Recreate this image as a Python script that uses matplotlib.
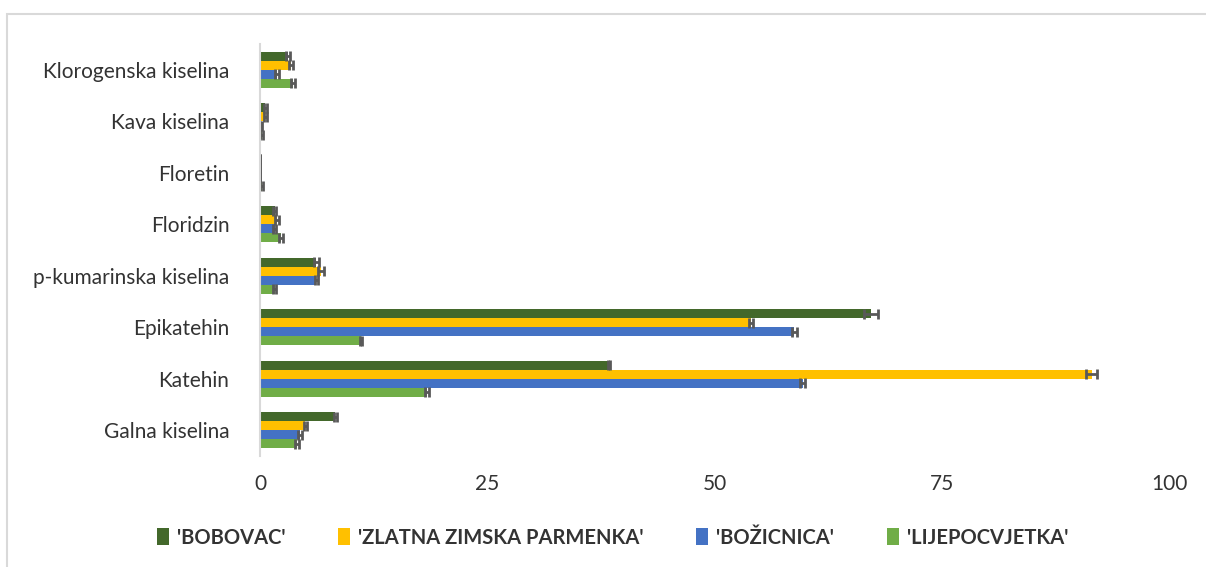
import numpy as np
import matplotlib
matplotlib.use('Agg')
import matplotlib.pyplot as plt
from matplotlib.patches import Rectangle

plt.rcParams['font.family'] = ['Lato', 'DejaVu Sans']

# categories listed bottom -> top
categories = ['Galna kiselina', 'Katehin', 'Epikatehin', 'p-kumarinska kiselina',
              'Floridzin', 'Floretin', 'Kava kiselina', 'Klorogenska kiselina']
series = ["'BOBOVAC'", "'ZLATNA ZIMSKA PARMENKA'", "'BOŽICNICA'", "'LIJEPOCVJETKA'"]
colors = ['#43682b', '#ffc000', '#4472c4', '#70ad47']

bobovac = [8.3, 38.4, 67.2, 6.2, 1.6, 0.0, 0.6, 3.1]
zlatna = [5.0, 91.5, 54.0, 6.7, 1.9, 0.0, 0.6, 3.4]
bozicnica = [4.4, 59.7, 58.8, 6.2, 1.6, 0.0, 0.1, 1.9]
lijepo = [4.1, 18.4, 11.1, 1.6, 2.3, 0.2, 0.2, 3.6]

bobovac_err = [0.15, 0.15, 0.8, 0.3, 0.2, 0.0, 0.2, 0.2]
zlatna_err = [0.15, 0.6, 0.2, 0.3, 0.2, 0.0, 0.2, 0.2]
bozicnica_err = [0.2, 0.3, 0.3, 0.15, 0.15, 0.0, 0.15, 0.2]
lijepo_err = [0.2, 0.2, 0.15, 0.15, 0.2, 0.15, 0.15, 0.2]

values = [bobovac, zlatna, bozicnica, lijepo]
errors = [bobovac_err, zlatna_err, bozicnica_err, lijepo_err]

fig = plt.figure(figsize=(12.06, 5.67), dpi=100)
ax = fig.add_axes([0.2156, 0.196, 0.9693 - 0.2156, 0.922 - 0.196])

y = np.arange(len(categories))
h = 0.175
offsets = [1.5 * h, 0.5 * h, -0.5 * h, -1.5 * h]
for i in range(4):
    ax.barh(y + offsets[i], values[i], height=h, color=colors[i], label=series[i],
            xerr=errors[i], error_kw=dict(ecolor='#595959', elinewidth=2, capsize=3.5, capthick=2))

ax.set_xlim(0, 100)
ax.set_ylim(-0.5, len(categories) - 0.5)
ax.set_xticks([0, 25, 50, 75, 100])
ax.set_yticks(y)
ax.set_yticklabels(categories)
ax.tick_params(axis='both', length=0, labelsize=15, colors='#333333')
ax.tick_params(axis='y', pad=22)
ax.tick_params(axis='x', pad=13)
for s in ['top', 'right', 'bottom']:
    ax.spines[s].set_visible(False)
ax.spines['left'].set_color('#d9d9d9')
ax.spines['left'].set_linewidth(1.5)

leg = fig.legend(loc='center', bbox_to_anchor=(0.508, 0.052), ncol=4, frameon=False,
                 prop={'weight': 'bold', 'size': 14.5}, handlelength=0.6, handleheight=0.9,
                 handletextpad=0.4, columnspacing=2.6)
for t in leg.get_texts():
    t.set_color('#333333')

fig.patches.append(Rectangle((7 / 1206, -0.1), 1.2, 1 - 14 / 567 + 0.1, transform=fig.transFigure,
                             fill=False, edgecolor='#d9d9d9', linewidth=1.5))

fig.savefig('out.png', dpi=100)
